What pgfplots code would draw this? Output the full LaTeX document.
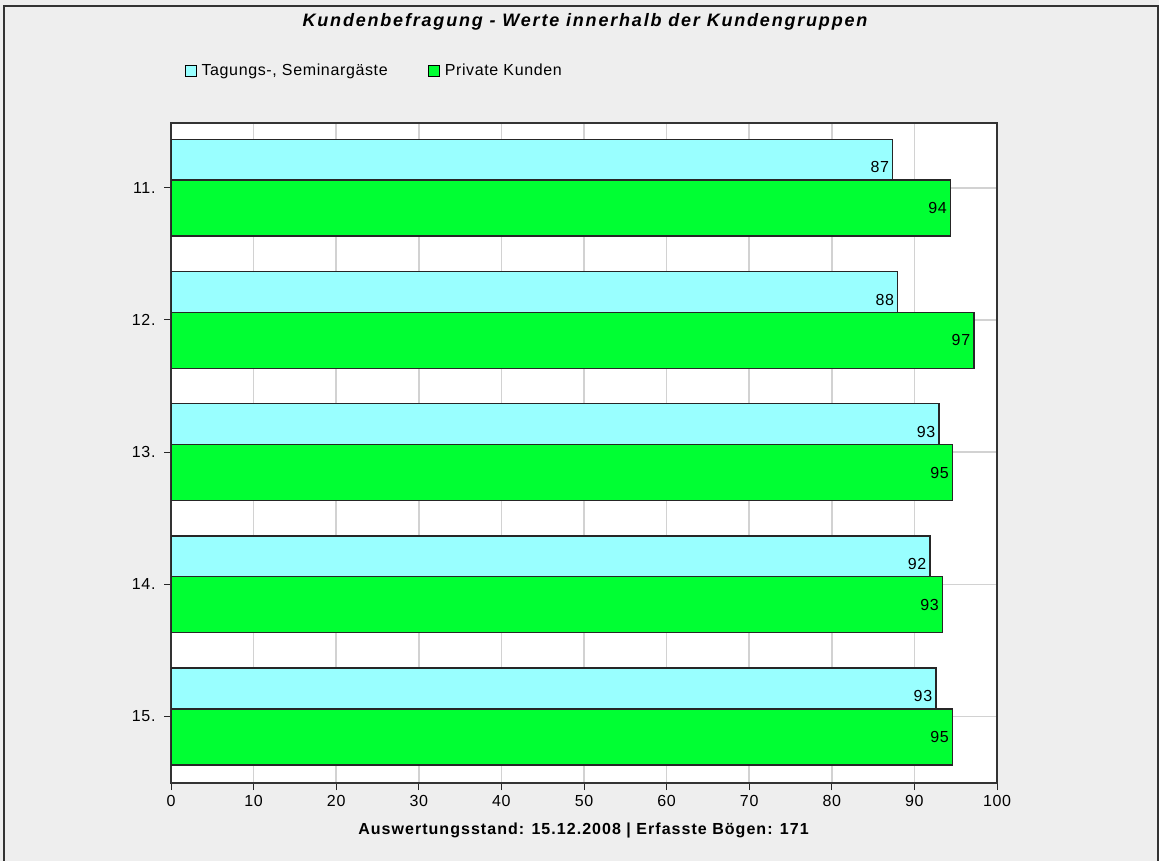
\documentclass[border=0pt]{standalone}
\usepackage{pgfplots}
\pgfplotsset{compat=1.18}
\usepackage{pgfplotstable}
\usepackage{fontspec}
\setmainfont{Liberation Sans}
\newfontfamily\titlef[LetterSpace=10]{Liberation Sans}
\newfontfamily\footf[LetterSpace=6.5]{Liberation Sans}
\newfontfamily\labf[LetterSpace=4]{Liberation Sans}
\definecolor{bg}{HTML}{EEEEEE}
\definecolor{cyanbar}{HTML}{99FFFF}
\definecolor{greenbar}{HTML}{00FF33}
\definecolor{gridc}{HTML}{D2D2D2}

\pgfplotstableread{
y val lab
0 87.37 87
1 87.97 88
2 92.98 93
3 91.90 92
4 92.60 93
}\tagung
\pgfplotstableread{
y val lab
0 94.36 94
1 97.20 97
2 94.60 95
3 93.40 93
4 94.60 95
}\privat

\begin{document}
\begin{tikzpicture}[x=1pt,y=1pt]
\useasboundingbox (0,0) rectangle (1159,861);
\fill[bg] (0,0) rectangle (1159,861);
\draw[line width=2pt, black!80] (4,-5) -- (4,855) -- (1157.5,855) -- (1157.5,-5);
\node[font=\titlef\bfseries\itshape\fontsize{18}{20}\selectfont] at (585,839) {Kundenbefragung - Werte innerhalb der Kundengruppen};
\node[font=\footf\bfseries\fontsize{16}{18}\selectfont] at (583.5,31) {Auswertungsstand: 15.12.2008 | Erfasste Bögen: 171};
\begin{axis}[
  at={(171pt,78pt)}, anchor=south west,
  scale only axis, width=826pt, height=660pt,
  xbar, bar width=56pt,
  xmin=0, xmax=100, xtick={0,10,...,100},
  ymin=-0.49, ymax=4.503, y dir=reverse,
  ytick={0,...,4}, yticklabels={11.,12.,13.,14.,15.},
  tick pos=left,
  grid=major, major grid style={gridc, line width=1.5pt},
  tick align=outside, major tick length=7pt,
  tick style={black!85, line width=1pt},
  axis line style={black!80, line width=1.5pt},
  axis background/.style={fill=white},
  /pgf/number format/assume math mode=true,
  ticklabel style={font=\labf\fontsize{16}{18}\selectfont},
  xticklabel style={yshift=-2pt},
  yticklabel style={xshift=-5pt},
  point meta=explicit symbolic,
  nodes near coords,
  every node near coord/.append style={anchor=east, inner xsep=3pt, font=\labf\fontsize{16}{18}\selectfont, black},
  legend columns=2,
  legend style={at={(axis description cs:0.0125,1.079)}, anchor=west, draw=none, fill=none,
    font=\labf\fontsize{16}{18}\selectfont,
    /tikz/every odd column/.append style={column sep=3pt},
    /tikz/every even column/.append style={column sep=38pt}},
  legend image code/.code={\draw[#1, draw=black, line width=1pt] (0pt,-5.5pt) rectangle (11pt,5.5pt);},
]
\addplot[fill=cyanbar, draw=black!85, line width=1.4pt, bar shift=20.4pt] table[x=val, y=y, meta=lab] {\tagung};
\addlegendentry{Tagungs-, Seminargäste}
\addplot[fill=greenbar, draw=black!85, line width=1.4pt, bar shift=-20.4pt] table[x=val, y=y, meta=lab] {\privat};
\addlegendentry{Private Kunden}
\end{axis}
\end{tikzpicture}
\end{document}
